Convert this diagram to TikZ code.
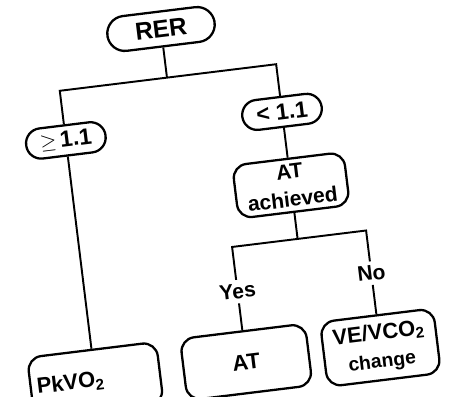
\documentclass[tikz,border=0pt]{standalone}
\usepackage{fontspec}
\setmainfont{Liberation Sans}

\begin{document}
\begin{tikzpicture}[x=0.02cm,y=0.02cm,line width=1.1pt,
  pill/.style={draw,line width=1.3pt,rounded corners=0.3cm,minimum width=1.6cm,minimum height=0.6cm,font=\fontsize{13}{15}\selectfont\bfseries},
  box/.style={draw,line width=1.3pt,rounded corners=0.28cm,align=center,inner sep=3pt,font=\fontsize{11.5}{14}\selectfont\bfseries},
  lbl/.style={fill=white,inner sep=2pt,font=\fontsize{12}{14}\selectfont\bfseries}]

\fill[white] (0,0) rectangle (450,396);
\useasboundingbox (0,0) rectangle (450,396);
\clip (0,0) rectangle (450,396);

\begin{scope}[shift={(161,367)},rotate=7,transform shape]
\node[pill,minimum width=2.16cm,minimum height=0.7cm,rounded corners=0.35cm,font=\fontsize{14}{16}\selectfont\bfseries] (rer) at (0,0) {RER};

\node[pill] (ge) at (-108,-99) {$\geq$\,1.1};
\node[pill] (lt) at (110,-97) {< 1.1};

\node[box,minimum width=2.24cm,minimum height=1.04cm,font=\fontsize{12}{14}\selectfont\bfseries] (ach) at (110,-171) {AT\\[2pt]achieved};

\node[lbl] (yes) at (44,-270) {Yes};
\node[lbl] (no) at (179,-268) {No};

\node[box,minimum width=2.6cm,minimum height=1.24cm,text width=2.35cm,align=left,font=\fontsize{12.5}{14}\selectfont\bfseries] (pk) at (-108,-341) {PkVO\textsubscript{2}};
\node[box,minimum width=2.52cm,minimum height=1.24cm,font=\fontsize{12.5}{14}\selectfont\bfseries] (atb) at (44,-341) {AT};
\node[box,minimum width=2.28cm,minimum height=1.3cm,font=\fontsize{12.5}{13}\selectfont\bfseries] (ve) at (179,-343) {VE/VCO\textsubscript{2}\\[3pt]{\fontsize{11}{12}\selectfont change}};

% RER split
\coordinate (split) at (0,-49);
\coordinate (splitL) at (-108,-49);
\coordinate (splitR) at (110,-49);
\draw (rer) -- (split);
\draw (ge) -- (splitL) -- (splitR) -- (lt);
\draw (ge) -- (pk);
\draw (lt) -- (ach);

% AT split
\coordinate (fork) at (110,-225);
\coordinate (forkL) at (44,-225);
\coordinate (forkR) at (179,-225);
\draw (ach) -- (fork);
\draw (yes) -- (forkL) -- (forkR) -- (no);
\draw (yes) -- (atb);
\draw (no) -- (ve);
\end{scope}
\end{tikzpicture}
\end{document}
